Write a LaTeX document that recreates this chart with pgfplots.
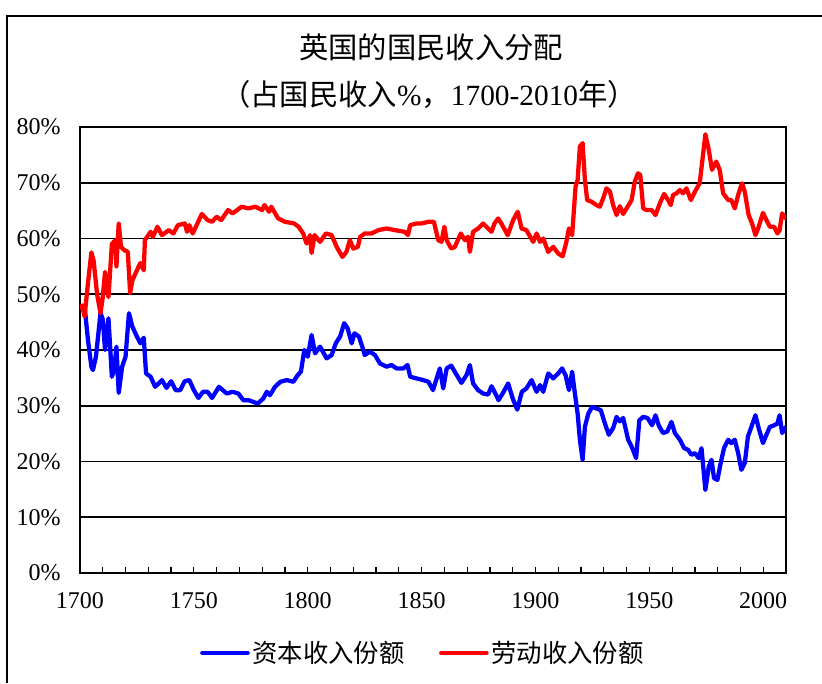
\documentclass[border=0pt]{standalone}
\usepackage{pgfplots}
\pgfplotsset{compat=1.18}
\usepackage{fontspec}
\setmainfont{Liberation Serif}
\newfontfamily\cjk{Noto Sans CJK SC}
\begin{document}
\begin{tikzpicture}[x=0.75pt,y=0.75pt]
\useasboundingbox (0,0) rectangle (822,683);
\draw[line width=1.5pt] (7,0) -- (7,667) -- (822,667);
\node[font=\cjk\fontsize{22}{26}\selectfont] at (431,636) {英国的国民收入分配};
\node[font=\fontsize{22}{26}\selectfont] at (429,588) {{\cjk （占国民收入}\%{\cjk ，}1700-2010{\cjk 年）}};
\begin{axis}[
  at={(60pt,82.5pt)}, anchor=south west,
  scale only axis, width=529.5pt, height=334.5pt,
  xmin=1700, xmax=2010, ymin=0, ymax=80,
  xtick={1700,1750,...,2000},
  minor xtick={1710,1720,...,2010},
  ytick={0,10,...,80},
  yticklabel={\pgfmathprintnumber{\tick}\%},
  /pgf/number format/assume math mode=true,
  xticklabel style={/pgf/number format/1000 sep={}, yshift=-11pt},
  yticklabel style={xshift=-11pt},
  ymajorgrids, grid style={black, line width=1.2pt},
  axis line style={line width=1.2pt},
  tick align=inside, xtick pos=bottom,
  major tick length=4.5pt, minor tick length=4.5pt,
  xtick style={black, line width=0.9pt},
  minor x tick style={black, line width=0.9pt},
  ytick style={draw=none},
  tick label style={font=\fontsize{18}{20}\selectfont},
  legend style={at={(0.486,-0.179)}, anchor=center, draw=none, legend columns=2,
    font=\cjk\fontsize{19}{22}\selectfont, column sep=0pt,
    /tikz/every even column/.append style={column sep=24pt}},
  legend image code/.code={\draw[#1] (0pt,0pt) -- (34pt,0pt);},
  every axis plot/.append style={line width=3.2pt, line join=round, line cap=round},
]
\addplot[blue, mark=none] coordinates {
(1700,47.5)(1701,47.8)(1702,47.9)(1703.5,41.8)(1705,37)(1705.7,36.4)(1707,38.8)(1709,46.6)(1710,45.5)
(1711,40)(1712.5,45.7)(1714,35.2)(1715,36.4)(1716,40.6)(1717,32.3)(1718.5,37)(1720,38.8)(1721.5,46.6)
(1723,44.2)(1725,42.4)(1726.5,41.2)(1728,42.2)(1729,35.8)(1731,35.2)(1733,33.4)(1736,34.6)(1738,33.2)
(1740,34.4)(1742,32.8)(1744,32.8)(1746,34.4)(1748,34.6)(1750,32.8)(1752,31.4)(1754,32.5)(1756,32.5)
(1758,31.4)(1761,33.4)(1764.4,32.2)(1767,32.5)(1769.5,32.2)(1771.7,31)(1774,31)(1776,30.7)(1778,30.4)
(1780.5,31.3)(1782,32.5)(1783.4,31.9)(1785.6,33.4)(1788,34.3)(1790.8,34.6)(1793.7,34.3)(1795.6,35.5)
(1797,36.1)(1798.5,40)(1800,38.8)(1801.7,42.7)(1803.2,39.4)(1805.4,40.6)(1808.3,38.5)(1810.5,39.1)
(1812.3,41.2)(1814.2,42.4)(1816,44.8)(1817.5,43.9)(1819.3,41.2)(1820.5,43)(1822.5,42.4)(1824.4,40)
(1825,39.1)(1827.3,39.7)(1829.5,39.1)(1831.7,37.6)(1834.6,37)(1836.8,37.3)(1839,36.7)(1842,36.7)
(1843.8,37.3)(1845,35.2)(1847.8,34.9)(1850.7,34.6)(1853,34.3)(1855,32.8)(1858,36.7)(1859.5,33.1)
(1861,36.7)(1863,37.2)(1865,35.8)(1867.5,34.1)(1869.7,35.5)(1871.2,37.3)(1872.6,34)(1874.8,32.8)
(1877,32.2)(1879.2,32)(1880.7,33.5)(1882,32.5)(1883.8,31)(1886,32.5)(1888,34)(1890,31.3)(1892,29.3)
(1894,32.5)(1896,33.1)(1898.3,34.6)(1900.5,32.5)(1902,33.7)(1903.4,32.5)(1905.6,35.8)(1907.8,34.9)
(1910,35.8)(1911.7,36.7)(1913.2,35.5)(1914.7,32.8)(1916.1,36.1)(1917.3,32.2)(1918.5,28.6)(1919.5,23.9)
(1920.7,20.3)(1921.7,26.2)(1923.2,28.6)(1924.9,29.8)(1926.8,29.5)(1928.7,29.2)(1930.5,26.8)(1932.2,24.8)
(1934.1,26)(1935.6,28)(1937,27.2)(1938.5,27.8)(1940.7,23.9)(1942.2,22.7)(1944.2,20.6)(1945.6,27.4)
(1947.3,28)(1949.2,27.8)(1951.2,26.5)(1952.7,28.3)(1954.1,26.5)(1956,25.1)(1957.9,25.4)(1959.7,27.1)
(1961.2,25.1)(1963.4,23.9)(1965.3,22.4)(1967,22.1)(1968.5,21.2)(1970,21.5)(1971.7,20.6)(1972.9,22.4)
(1974.6,14.9)(1976.1,19.1)(1977.3,20.3)(1978.4,17)(1979.9,16.7)(1981.3,19.7)(1982.8,22.4)(1984.6,23.9)
(1986,23.3)(1987.5,23.9)(1989,21.5)(1990.4,18.5)(1991.9,19.7)(1993.3,24.5)(1994.8,26.2)(1996.6,28.3)
(1998,26)(1999.9,23.3)(2001.4,24.8)(2002.9,26.2)(2004.8,26.5)(2006.2,26.8)(2007.2,28.3)(2008.3,25.1)
(2010,26.2)
};
\addlegendentry{资本收入份额}
\addplot[red, mark=none] coordinates {
(1700,47.5)(1701,48)(1702,46)(1703.5,52)(1705,57.5)(1706,56)(1707.5,50)(1709,46.6)(1710,49.5)
(1711,54)(1712.5,49.5)(1714,59)(1715.5,59.7)(1716,55)(1717,62.7)(1718,58.5)(1719.5,57.9)(1721,57.6)
(1722,50.2)(1723,52.5)(1725,54.3)(1726.5,55.6)(1728,54.3)(1728.5,59.7)(1729.5,60.3)(1731,61.2)
(1732,60.3)(1734,62.1)(1736,60.6)(1739,61.5)(1741,60.9)(1743,62.4)(1746,62.7)(1747,61.2)(1748,62.4)
(1749.5,60.9)(1753.5,64.4)(1756,63.3)(1758,63)(1760,63.9)(1762,63.3)(1765,65.1)(1767,64.5)(1771,65.7)
(1774,65.4)(1777,65.7)(1780,65.1)(1781,66)(1783,64.8)(1784,65.7)(1787,63.6)(1790,63)(1794,62.7)
(1796,62.1)(1798,60.9)(1799.5,59.1)(1801,60.6)(1801.7,57.4)(1803,60.6)(1805.4,59.4)(1808,60.9)
(1810.5,60.6)(1812.7,58.5)(1815.2,56.7)(1817,57.6)(1818.5,59.7)(1820,58.2)(1822,58.5)(1823,60.3)
(1825,60.9)(1828,60.9)(1831,61.5)(1834.6,61.8)(1838.3,61.5)(1842.6,61.2)(1844,60.6)(1845,62.4)
(1847.8,62.7)(1850,62.7)(1853,63)(1855.4,63)(1857.3,59.7)(1858.7,59.4)(1860,62.1)(1861,59.7)
(1863,58.2)(1864.6,58.5)(1867.2,60.9)(1869,59.7)(1870.4,60.3)(1871.2,57.6)(1872.6,61.2)(1874.8,61.8)
(1877,62.7)(1879.2,61.8)(1880.7,61.2)(1882,62.7)(1883.6,63.6)(1885,62.7)(1887.8,60.6)(1890.2,63.3)
(1892.2,64.8)(1893.9,61.8)(1896,61.5)(1899,59.4)(1900.5,60.9)(1902,59.4)(1903.4,60)(1905.6,57.6)
(1907.8,58.5)(1910,57.3)(1911.9,56.8)(1913.4,59.1)(1914.7,61.8)(1916.1,60.6)(1917.6,69.3)(1918.5,70.5)
(1919.5,76.5)(1920.7,77.1)(1921.7,70.5)(1922.7,66.9)(1924.6,66.6)(1926.8,66)(1928.3,65.7)(1929.7,67.2)
(1931.2,69)(1932.7,68.4)(1934.1,66)(1935.6,64.2)(1937,65.8)(1938.5,64.4)(1940,65.4)(1942.2,66.9)
(1943.6,70.2)(1945,71.7)(1946,71.4)(1947.3,65.4)(1948.7,65.1)(1951,65.1)(1952.7,64.2)(1954.6,66.3)
(1956.5,68)(1958.2,66.9)(1959.4,66)(1960.4,67.8)(1961.9,68.1)(1963.4,68.7)(1964.8,68.1)(1966.3,69)
(1968.2,66.9)(1970,68.4)(1972.1,69.9)(1973.3,74.1)(1974.6,78.7)(1976.1,75.9)(1977.5,72.3)(1979.4,73.8)
(1980.9,72.3)(1982.4,68.1)(1984.6,66.9)(1986,66.9)(1987.5,65.4)(1989.2,68.1)(1990.7,69.9)(1991.9,68.4)
(1993.6,64.2)(1995.1,62.7)(1996.6,60.6)(1998,62.1)(1999.9,64.6)(2001.4,63.3)(2002.9,62.1)(2004.8,62.1)
(2006.2,60.9)(2007.2,61.5)(2008.3,64.5)(2010,63.6)
};
\addlegendentry{劳动收入份额}
\end{axis}
\end{tikzpicture}
\end{document}
